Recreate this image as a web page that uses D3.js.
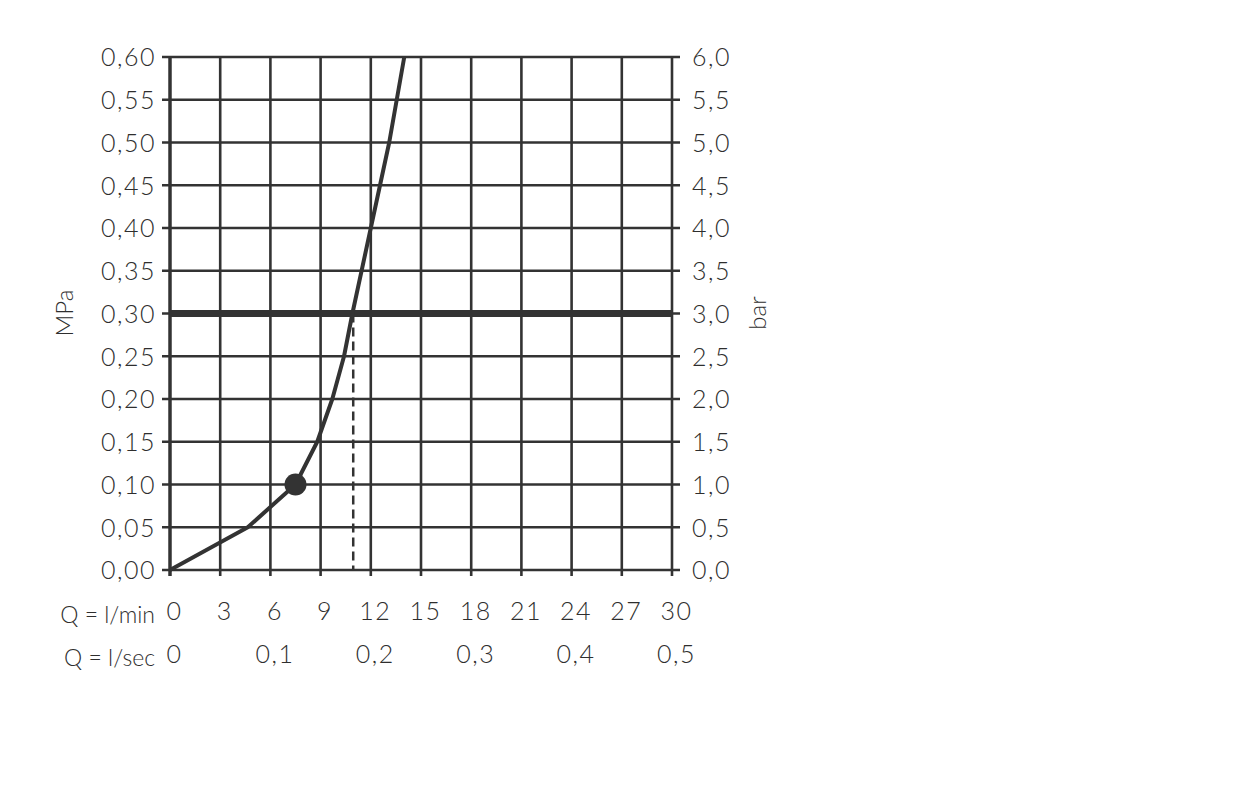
<!DOCTYPE html>
<html><head><meta charset="utf-8">
<script src="https://cdn.jsdelivr.net/npm/d3@7"></script>
<style>
body{margin:0;background:#fff;}
text{font-family:"Lato","Open Sans",sans-serif;font-weight:300;fill:#2e2e2e;}
</style></head>
<body><svg id="c" width="1254" height="800"></svg>
<script>
const flowLmin = [0, 4.65, 7.5, 8.8, 9.7, 10.4, 10.9, 12.0, 13.1, 14.0];
const pressureMPa = [0, 0.05, 0.10, 0.15, 0.20, 0.25, 0.30, 0.40, 0.50, 0.60];
const xTicksLmin = [0, 3, 6, 9, 12, 15, 18, 21, 24, 27, 30];
const xTicksLsec = [0, 0.1, 0.2, 0.3, 0.4, 0.5];
const yTicksMPa = [0, 0.05, 0.10, 0.15, 0.20, 0.25, 0.30, 0.35, 0.40, 0.45, 0.50, 0.55, 0.60];
const yTicksBar = [0, 0.5, 1, 1.5, 2, 2.5, 3, 3.5, 4, 4.5, 5, 5.5, 6];
const refPressure = 0.30;
const opPoint = {q: 7.5, p: 0.10};
const dashedFlow = 10.95;

const svg = d3.select("#c");
const L = 170, R = 672, T = 57, B = 570;
const x = d3.scaleLinear().domain([0, 30]).range([L, R]);
const y = d3.scaleLinear().domain([0, 0.6]).range([B, T]);
const yBar = d3.scaleLinear().domain([0, 6]).range([B, T]);
const xSec = d3.scaleLinear().domain([0, 0.5]).range([L, R]);
const col = "#333";
const FS = 25;
const fmt2 = v => d3.format(".2f")(v).replace(".", ",");
const fmt1 = v => d3.format(".1f")(v).replace(".", ",");

function styleText(sel) {
  sel.attr("font-size", FS).attr("font-family", "Lato").attr("font-weight", 300)
     .attr("fill", "#2e2e2e").attr("letter-spacing", 1.5);
}

// grid
const g = svg.append("g");
g.selectAll(".vg").data(xTicksLmin).join("line")
  .attr("x1", d => x(d)).attr("x2", d => x(d)).attr("y1", T).attr("y2", B + 6)
  .attr("stroke", col).attr("stroke-width", d => d === 0 ? 3.5 : 2.6);
g.selectAll(".hg").data(yTicksMPa).join("line")
  .attr("x1", L - 8).attr("x2", R + 8).attr("y1", d => y(d)).attr("y2", d => y(d))
  .attr("stroke", col).attr("stroke-width", 2.6);

// left axis labels
const leftAxis = d3.axisLeft(y).tickValues(yTicksMPa).tickFormat(fmt2).tickSize(0).tickPadding(14);
const la = svg.append("g").attr("transform", `translate(${L},0)`).call(leftAxis);
la.select(".domain").remove();
la.selectAll("text").call(styleText).attr("dy", "0.35em");

const rightAxis = d3.axisRight(yBar).tickValues(yTicksBar).tickFormat(fmt1).tickSize(0).tickPadding(20);
const ra = svg.append("g").attr("transform", `translate(${R},0)`).call(rightAxis);
ra.select(".domain").remove();
ra.selectAll("text").call(styleText).attr("dy", "0.35em");

// bottom labels
const bx = d3.axisBottom(x).tickValues(xTicksLmin).tickFormat(d => d).tickSize(0).tickPadding(32);
const ba = svg.append("g").attr("transform", `translate(4,${B})`).call(bx);
ba.select(".domain").remove();
ba.selectAll("text").call(styleText);

const bs = d3.axisBottom(xSec).tickValues(xTicksLsec).tickFormat(d => d === 0 ? "0" : fmt1(d)).tickSize(0).tickPadding(75);
const bsa = svg.append("g").attr("transform", `translate(4,${B})`).call(bs);
bsa.select(".domain").remove();
bsa.selectAll("text").call(styleText);

svg.append("text").attr("x", 155).attr("y", 623).attr("text-anchor", "end").attr("font-size", 23).text("Q = l/min");
svg.append("text").attr("x", 155).attr("y", 666).attr("text-anchor", "end").attr("font-size", 23).text("Q = l/sec");

svg.append("text").attr("transform", "translate(73,313) rotate(-90)").attr("text-anchor", "middle").attr("font-size", 24).text("MPa");
svg.append("text").attr("transform", "translate(766,313) rotate(-90)").attr("text-anchor", "middle").attr("font-size", 24).text("bar");

// reference line
svg.append("line").attr("x1", L).attr("x2", R).attr("y1", y(refPressure)).attr("y2", y(refPressure))
  .attr("stroke", col).attr("stroke-width", 7);

// dashed
svg.append("line").attr("x1", x(dashedFlow)).attr("x2", x(dashedFlow)).attr("y1", y(refPressure)).attr("y2", B)
  .attr("stroke", col).attr("stroke-width", 2.5).attr("stroke-dasharray", "9,5");

// curve
const data = flowLmin.map((q, i) => ({q, p: pressureMPa[i]}));
svg.append("path").datum(data)
  .attr("d", d3.line().x(d => x(d.q)).y(d => y(d.p)))
  .attr("fill", "none").attr("stroke", col).attr("stroke-width", 4).attr("stroke-linejoin", "round");

svg.append("circle").attr("cx", x(opPoint.q)).attr("cy", y(opPoint.p)).attr("r", 11).attr("fill", col);
</script></body></html>
